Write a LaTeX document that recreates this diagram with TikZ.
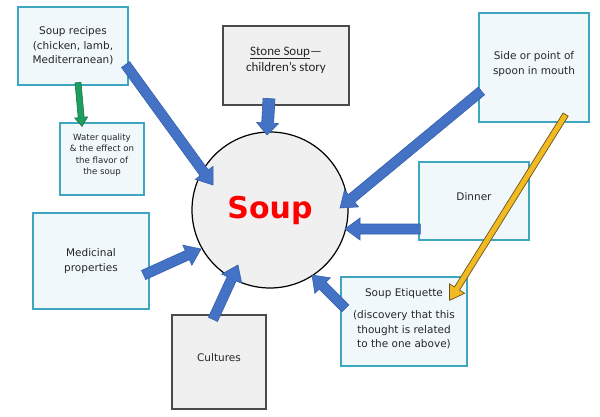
\documentclass[tikz,border=0pt]{standalone}
\usepackage{fontspec}
\setmainfont{DejaVu Sans}
\newfontfamily\calib{Carlito}
\usetikzlibrary{calc}
\definecolor{boxedge}{HTML}{3FA6BF}
\definecolor{boxfill}{HTML}{F1F8FC}
\definecolor{gedge}{HTML}{4A4A4A}
\definecolor{gfill}{HTML}{F0F0F0}
\definecolor{txtc}{HTML}{262626}
\definecolor{bluefill}{HTML}{4472C4}
\definecolor{blueedge}{HTML}{3560AE}
\definecolor{greenfill}{HTML}{1E9E5C}
\definecolor{greenedge}{HTML}{15704A}
\definecolor{goldfill}{HTML}{F2BA22}
\definecolor{goldedge}{HTML}{6B5418}
\newcommand\blockarr[6]{%
  \path[#1] let \p1=($(#3)-(#2)$), \n1={atan2(\y1,\x1)}, \n2={veclen(\x1,\y1)} in
  ($(#2)+(\n1+90:#4)$) -- ++(\n1:{\n2-#6}) -- ++(\n1+90:{#5-#4}) -- (#3)
  -- ($(#3)+(\n1:-#6)+(\n1-90:#5)$) -- ++(\n1+90:{#5-#4}) -- ++(\n1:{#6-\n2}) -- cycle;}
\begin{document}
\begin{tikzpicture}[x=1pt,y=1pt,
  tbox/.style={draw=boxedge, fill=boxfill, line width=1.2pt, align=center, inner sep=0pt, text=txtc,
    font=\fontsize{10.5}{14.5}\selectfont},
  gbox/.style={draw=gedge, fill=gfill, line width=1.2pt, align=center, inner sep=0pt, text=txtc,
    font=\fontsize{10.5}{14.5}\selectfont},
  txt/.style={align=center, inner sep=0pt, text=txtc},
  bluearr/.style={fill=bluefill, draw=blueedge, line width=0.6pt, line join=miter},
  greenarr/.style={fill=greenfill, draw=greenedge, line width=0.6pt},
  goldarr/.style={fill=goldfill, draw=goldedge, line width=0.7pt}]
\fill[white] (0,0) rectangle (600,-417);
\useasboundingbox (0,0) rectangle (600,-417);

% boxes
\node[tbox, minimum width=110, minimum height=78] (recipes) at (73,-46) {Soup recipes\\(chicken, lamb,\\Mediterranean)};
\node[tbox, minimum width=84, minimum height=72] (water) at (102,-159) {};
\node[txt, font=\fontsize{8.6}{11.5}\selectfont] (watertxt) at (102,-155) {Water quality\\\& the effect on\\the flavor of\\the soup};
\node[gbox, minimum width=126, minimum height=79] (stone) at (286,-65.5) {};
\node[txt, font=\calib\fontsize{13}{16}\selectfont] (stonetxt) at (286,-60) {\underline{Stone Soup}—\\children’s story};
\node[tbox, minimum width=110, minimum height=109] (side) at (534,-67.5) {};
\node[txt, font=\fontsize{10.5}{14.5}\selectfont] (sidetxt) at (534,-64) {Side or point of\\spoon in mouth};
\node[tbox, minimum width=110, minimum height=78] (dinner) at (474,-201) {};
\node[txt, font=\fontsize{10.5}{14.5}\selectfont] (dinnertxt) at (474,-197) {Dinner};
\node[tbox, minimum width=116, minimum height=96] (medic) at (91,-261) {Medicinal\\properties};
\node[tbox, minimum width=126, minimum height=89] (etiq) at (404,-321.5) {};
\node[txt, font=\fontsize{10.5}{14.5}\selectfont] (etiqtxt) at (404,-318.5) {Soup Etiquette\\[8pt](discovery that this\\thought is related\\to the one above)};
\node[gbox, minimum width=94, minimum height=94] (cultures) at (219,-362) {};
\node[txt, font=\fontsize{10.5}{14.5}\selectfont] (culttxt) at (219,-358) {Cultures};

% central circle
\node[circle, draw=black, fill=gfill, line width=1.2pt, minimum size=156, inner sep=0pt,
  text=red, font=\bfseries\fontsize{30}{36}\selectfont] (soup) at (270,-210) {Soup};

% arrow ends
\coordinate (t1) at ([shift={(-3,21)}]recipes.south east);
\coordinate (h1) at ([shift={(-57,25)}]soup.center);
\coordinate (t2) at ([shift={(-17,7)}]stone.south);
\coordinate (h2) at ([shift={(-3,75)}]soup.center);
\coordinate (t3) at ([shift={(3,-23.5)}]side.west);
\coordinate (h3) at ([shift={(70,2)}]soup.center);
\coordinate (t4) at ([shift={(2,-28)}]dinner.west);
\coordinate (h4) at ([shift={(75,-19)}]soup.center);
\coordinate (t5) at ([shift={(5,-32)}]etiq.north west);
\coordinate (h5) at ([shift={(42,-65)}]soup.center);
\coordinate (t6) at ([shift={(-6,-5)}]cultures.north);
\coordinate (h6) at ([shift={(-32,-55)}]soup.center);
\coordinate (t7) at ([shift={(-6,-14)}]medic.east);
\coordinate (h7) at ([shift={(-69,-39)}]soup.center);
\coordinate (gs) at ([shift={(5,3)}]recipes.south);
\coordinate (gt) at ([shift={(-20,-4)}]water.north);
\coordinate (ys) at ([shift={(-24,8)}]side.south east);
\coordinate (yt) at ([shift={(-18,-24)}]etiq.north east);

% arrows
\blockarr{bluearr}{t1}{h1}{5pt}{11pt}{15pt}
\blockarr{bluearr}{t2}{h2}{6pt}{11pt}{12pt}
\blockarr{bluearr}{t3}{h3}{5pt}{11pt}{15pt}
\blockarr{bluearr}{t4}{h4}{5pt}{11pt}{15pt}
\blockarr{bluearr}{t5}{h5}{5pt}{11pt}{15pt}
\blockarr{bluearr}{t6}{h6}{5pt}{11pt}{15pt}
\blockarr{bluearr}{t7}{h7}{5pt}{11pt}{15pt}
\blockarr{greenarr}{gs}{gt}{3pt}{6.5pt}{9pt}
\blockarr{goldarr}{ys}{yt}{3pt}{9pt}{14pt}
\end{tikzpicture}
\end{document}
